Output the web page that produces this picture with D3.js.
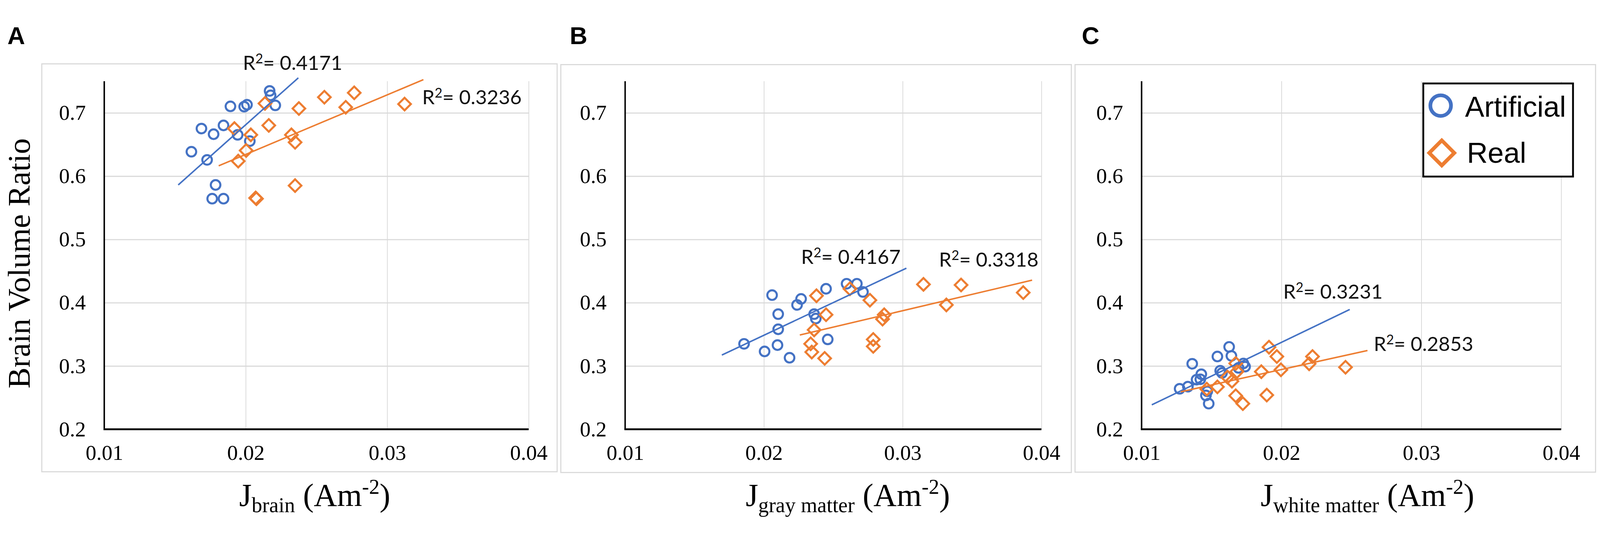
<!DOCTYPE html>
<html>
<head>
<meta charset="utf-8">
<script src="https://cdn.jsdelivr.net/npm/d3@7"></script>
<style>
  html, body { margin: 0; padding: 0; width: 100%; height: 100%; overflow: hidden; background: #fff; }
  svg { display: block; }
</style>
</head>
<body>
<script>
// ticks and series
var xTicks = [0.01, 0.02, 0.03, 0.04];
var yTicks = [0.2, 0.3, 0.4, 0.5, 0.6, 0.7];
var seriesNames = ["Artificial", "Real"];
var panelLetters = ["A", "B", "C"];
var xTitleSubs = ["brain", "gray matter", "white matter"];

// A - brain  [J, volume ratio]
var brainArtificial = [
  [0.01616, 0.6386], [0.01687, 0.6752], [0.01727, 0.6257], [0.01773, 0.6663],
  [0.01787, 0.5861], [0.01763, 0.5644], [0.01843, 0.5644], [0.01843, 0.6802],
  [0.01892, 0.7103], [0.01943, 0.6653], [0.01989, 0.7099], [0.02009, 0.7129],
  [0.02029, 0.6554], [0.02169, 0.7347], [0.02176, 0.7277], [0.02209, 0.7119]
];
var brainReal = [
  [0.01947, 0.6238], [0.01920, 0.6752], [0.02036, 0.6653], [0.02003, 0.6406],
  [0.02136, 0.7149], [0.02163, 0.6802], [0.02076, 0.5644], [0.02070, 0.5655],
  [0.02376, 0.7069], [0.02323, 0.6653], [0.02349, 0.6535], [0.02349, 0.5851],
  [0.02556, 0.7248], [0.02707, 0.7089], [0.02767, 0.7317], [0.03123, 0.7139]
];
var brainTrendArtificial = [[0.01523, 0.5861], [0.02372, 0.7554]];
var brainTrendReal = [[0.01809, 0.6164], [0.03256, 0.7525]];
var brainR2 = ["0.4171", "0.3236"];

// B - gray matter
var grayArtificial = [
  [0.01857, 0.335], [0.02005, 0.323], [0.02059, 0.412], [0.02103, 0.382],
  [0.02103, 0.358], [0.02098, 0.333], [0.02185, 0.313], [0.02239, 0.3965],
  [0.02268, 0.406], [0.02362, 0.382], [0.02374, 0.375], [0.02448, 0.422],
  [0.02460, 0.342], [0.02596, 0.430], [0.02670, 0.430], [0.02714, 0.417]
];
var grayReal = [
  [0.02379, 0.411], [0.02448, 0.381], [0.02362, 0.357], [0.02337, 0.335],
  [0.02345, 0.322], [0.02438, 0.312], [0.02620, 0.422], [0.02764, 0.404],
  [0.02788, 0.342], [0.02788, 0.331], [0.02867, 0.381], [0.02855, 0.374],
  [0.03150, 0.429], [0.03315, 0.3965], [0.03421, 0.428], [0.03869, 0.416]
];
var grayTrendArtificial = [[0.01697, 0.3173], [0.03027, 0.4546]];
var grayTrendReal = [[0.02259, 0.349], [0.03933, 0.4356]];
var grayR2 = ["0.4167", "0.3318"];

// C - white matter
var whiteArtificial = [
  [0.01272, 0.264], [0.01331, 0.2673], [0.01362, 0.3035], [0.01393, 0.2784],
  [0.01427, 0.287], [0.01420, 0.279], [0.01460, 0.2535], [0.01480, 0.2405],
  [0.01542, 0.315], [0.01562, 0.2925], [0.01575, 0.289], [0.01626, 0.3302],
  [0.01642, 0.316], [0.01693, 0.297], [0.01728, 0.304], [0.01740, 0.299],
  [0.01470, 0.260]
];
var whiteReal = [
  [0.01466, 0.2635], [0.01542, 0.267], [0.01614, 0.2825], [0.01646, 0.276],
  [0.01673, 0.304], [0.01682, 0.2912], [0.01673, 0.253], [0.01724, 0.2405],
  [0.01856, 0.291], [0.01895, 0.254], [0.01911, 0.3297], [0.01967, 0.315],
  [0.01996, 0.294], [0.02198, 0.3035], [0.02222, 0.315], [0.02458, 0.298]
];
var whiteTrendArtificial = [[0.01073, 0.2386], [0.02488, 0.3893]];
var whiteTrendReal = [[0.0128, 0.2592], [0.02615, 0.3245]];
var whiteR2 = ["0.3231", "0.2853"];

var w = 4328;
var h = 1373;
var blue = "#4472C4";
var orange = "#ED7D31";
var grid = "#d9d9d9";
var serif = "'Liberation Serif', 'Times New Roman', serif";
var sans = "'Liberation Sans', Arial, sans-serif";
var r2Font = "Lato, 'Open Sans', sans-serif";

// layout (pixels) for each panel
var layout = [
  { box: [113, 134, 1507, 1238], plot: [282, 1430], letterX: 20, titleX: 647,
    r2Pos: [[657, 150], [1142, 243]] },
  { box: [1517, 136, 2898, 1240], plot: [1691, 2817], letterX: 1541, titleX: 2017,
    r2Pos: [[2167, 675], [2540, 683]] },
  { box: [2908, 136, 4316, 1239], plot: [3088, 4223], letterX: 2926, titleX: 3410,
    r2Pos: [[3471, 769], [3716, 911]] }
];

var panelData = [
  { art: brainArtificial, real: brainReal, trends: [brainTrendArtificial, brainTrendReal], r2: brainR2 },
  { art: grayArtificial, real: grayReal, trends: [grayTrendArtificial, grayTrendReal], r2: grayR2 },
  { art: whiteArtificial, real: whiteReal, trends: [whiteTrendArtificial, whiteTrendReal], r2: whiteR2 }
];

// scale to whatever the window is
var svg = d3.select("body")
  .append("svg")
  .attr("viewBox", "0 0 " + w + " " + h)
  .attr("preserveAspectRatio", "xMidYMid meet")
  .attr("width", "100%")
  .attr("height", "100%");

svg.append("rect").attr("width", w).attr("height", h).attr("fill", "#fff");

var yBottom = 1123;
var yTop = 181;

panelData.forEach(function(pd, i) {
  var L = layout[i];
  var g = svg.append("g");

  var x = d3.scaleLinear().domain([0.01, 0.04]).range(L.plot);
  var y = d3.scaleLinear().domain([0.2, 0.75]).range([yBottom, yTop]);

  // chart area border
  g.append("rect")
    .attr("x", L.box[0])
    .attr("y", L.box[1])
    .attr("width", L.box[2] - L.box[0])
    .attr("height", L.box[3] - L.box[1])
    .attr("fill", "none")
    .attr("stroke", grid)
    .attr("stroke-width", 3);

  // horizontal gridlines
  g.append("g")
    .attr("transform", "translate(" + L.plot[0] + ",0)")
    .call(d3.axisLeft(y).tickValues(yTicks.slice(1)).tickSize(-(L.plot[1] - L.plot[0])).tickFormat(""))
    .call(function(s) {
      s.select(".domain").remove();
      s.selectAll("line").attr("stroke", grid).attr("stroke-width", 3);
    });

  // vertical gridlines
  g.append("g")
    .attr("transform", "translate(0," + yBottom + ")")
    .call(d3.axisBottom(x).tickValues(xTicks.slice(1)).tickSize(-(yBottom - yTop)).tickFormat(""))
    .call(function(s) {
      s.select(".domain").remove();
      s.selectAll("line").attr("stroke", grid).attr("stroke-width", 2);
    });

  // y tick labels
  g.append("g")
    .attr("transform", "translate(" + L.plot[0] + ",0)")
    .call(d3.axisLeft(y).tickValues(yTicks).tickSize(0).tickPadding(50).tickFormat(d3.format(".1f")))
    .call(function(s) {
      s.select(".domain").remove();
      s.selectAll("text").attr("font-family", serif).attr("font-size", 58).attr("fill", "#000");
    });

  // x tick labels
  g.append("g")
    .attr("transform", "translate(0," + yBottom + ")")
    .call(d3.axisBottom(x).tickValues(xTicks).tickSize(0).tickPadding(42).tickFormat(d3.format(".2f")))
    .call(function(s) {
      s.select(".domain").remove();
      s.selectAll("text").attr("font-family", serif).attr("font-size", 58).attr("fill", "#000");
    });

  // axis lines
  g.append("line")
    .attr("x1", x(0.01)).attr("x2", x(0.01))
    .attr("y1", y(0.2)).attr("y2", y(0.75))
    .attr("stroke", "#000").attr("stroke-width", 4);
  g.append("line")
    .attr("x1", x(0.01) - 2).attr("x2", x(0.04))
    .attr("y1", y(0.2)).attr("y2", y(0.2))
    .attr("stroke", "#000").attr("stroke-width", 5);

  // markers
  g.selectAll(".art")
    .data(pd.art)
    .join("path")
    .attr("class", "art")
    .attr("d", d3.symbol(d3.symbolCircle, 530))
    .attr("transform", function(d) { return "translate(" + x(d[0]) + "," + y(d[1]) + ")"; })
    .attr("fill", "none")
    .attr("stroke", blue)
    .attr("stroke-width", 5.5);

  g.selectAll(".real")
    .data(pd.real)
    .join("path")
    .attr("class", "real")
    .attr("d", d3.symbol(d3.symbolSquare, 580))
    .attr("transform", function(d) { return "translate(" + x(d[0]) + "," + y(d[1]) + ") rotate(45)"; })
    .attr("fill", "none")
    .attr("stroke", orange)
    .attr("stroke-width", 5.5);

  // trendlines
  var line = d3.line()
    .x(function(d) { return x(d[0]); })
    .y(function(d) { return y(d[1]); });

  g.selectAll(".trend")
    .data(pd.trends)
    .join("path")
    .attr("class", "trend")
    .attr("d", line)
    .attr("fill", "none")
    .attr("stroke", function(d, k) { return k === 0 ? blue : orange; })
    .attr("stroke-width", 4);

  // R2 labels
  pd.r2.forEach(function(v, k) {
    var r = g.append("text")
      .attr("x", L.r2Pos[k][0])
      .attr("y", L.r2Pos[k][1])
      .attr("font-family", r2Font)
      .attr("font-size", 54)
      .attr("fill", "#111");
    r.append("tspan").text("R");
    r.append("tspan").attr("font-size", 36).attr("dy", -18).text("2");
    r.append("tspan").attr("dy", 18).text("= " + v);
  });

  // panel letter
  g.append("text")
    .attr("x", L.letterX)
    .attr("y", 80)
    .attr("font-family", sans)
    .attr("font-weight", "bold")
    .attr("font-size", 66)
    .text(panelLetters[i]);

  // x title with subscript / superscript
  var t = g.append("text")
    .attr("x", L.titleX)
    .attr("y", 1330)
    .attr("font-family", serif)
    .attr("font-size", 87)
    .attr("fill", "#000");
  t.append("tspan").text("J");
  t.append("tspan").attr("font-size", 57).attr("dy", 17).text(xTitleSubs[i]);
  t.append("tspan").attr("dy", -17).text(" (Am");
  t.append("tspan").attr("font-size", 57).attr("dy", -32).text("-2");
  t.append("tspan").attr("dy", 32).text(")");
});

// y title
svg.append("text")
  .attr("transform", "translate(80,674) rotate(-90)")
  .attr("text-anchor", "middle")
  .attr("font-family", serif)
  .attr("font-size", 85)
  .attr("fill", "#000")
  .text("Brain Volume Ratio");

// legend (panel C)
var leg = svg.append("g");
leg.append("rect")
  .attr("x", 3850).attr("y", 187)
  .attr("width", 405).attr("height", 252)
  .attr("fill", "#fff")
  .attr("stroke", "#000")
  .attr("stroke-width", 5);

leg.append("path")
  .attr("d", d3.symbol(d3.symbolCircle, 2450))
  .attr("transform", "translate(3897,247)")
  .attr("fill", "none")
  .attr("stroke", blue)
  .attr("stroke-width", 10);

leg.append("path")
  .attr("d", d3.symbol(d3.symbolSquare, 2300))
  .attr("transform", "translate(3900,375) rotate(45)")
  .attr("fill", "none")
  .attr("stroke", orange)
  .attr("stroke-width", 10);

leg.selectAll(".legtext")
  .data(seriesNames)
  .join("text")
  .attr("class", "legtext")
  .attr("x", function(d, k) { return k === 0 ? 3963 : 3968; })
  .attr("y", function(d, k) { return k === 0 ? 277 : 402; })
  .attr("font-family", sans)
  .attr("font-size", 78)
  .attr("fill", "#000")
  .text(function(d) { return d; });
</script>
</body>
</html>
